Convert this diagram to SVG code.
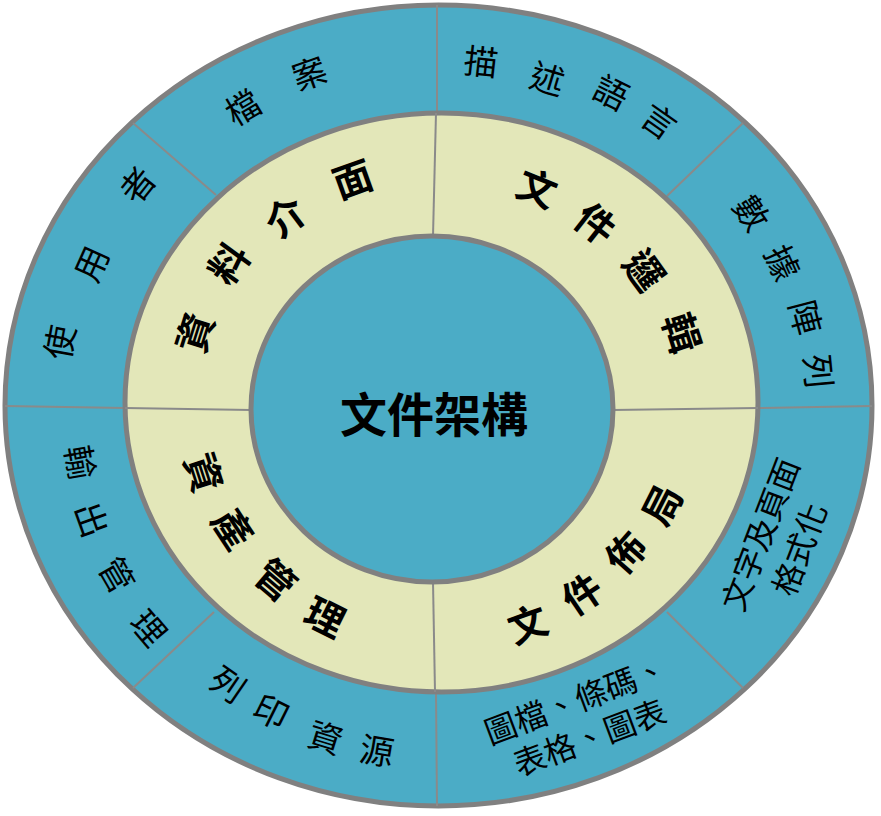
<svg xmlns="http://www.w3.org/2000/svg" width="881" height="816" viewBox="0 0 881 816">
<style>
.ring{stroke:#808080;stroke-width:5}
.blue{fill:#4BACC6}
.cream{fill:#E3E7B9}
.div{stroke:#8A8A8A;stroke-width:2;fill:none}
text{font-family:"Noto Sans CJK TC","Noto Sans CJK SC",sans-serif;fill:#000;text-anchor:middle;dominant-baseline:central}
.o{font-size:34px}
.t{font-size:32px}
.m{font-size:39px;font-weight:bold}
.c{font-size:47px;font-weight:bold}
</style>
<g id="rings">
<ellipse class="ring blue" cx="438.5" cy="405.5" rx="433.5" ry="400.5"/>
</g>
<g id="connectors">
<line class="div" x1="437" y1="5" x2="437" y2="113"/>
<line class="div" x1="743" y1="123" x2="667" y2="196"/>
<line class="div" x1="872" y1="406" x2="758" y2="408"/>
<line class="div" x1="743" y1="688" x2="667" y2="612"/>
<line class="div" x1="437" y1="806" x2="436" y2="692"/>
<line class="div" x1="133" y1="688" x2="214" y2="612"/>
<line class="div" x1="5" y1="406" x2="125" y2="408"/>
<line class="div" x1="133" y1="123" x2="216" y2="195"/>
</g>
<g id="middle-ring">
<ellipse class="ring cream" cx="441.5" cy="402.5" rx="316.5" ry="289.5"/>
<line class="div" x1="436" y1="113" x2="433" y2="236"/>
<line class="div" x1="758" y1="408" x2="613" y2="410"/>
<line class="div" x1="433" y1="582" x2="435" y2="692"/>
<line class="div" x1="125" y1="408" x2="251" y2="410"/>
</g>
<g id="center">
<ellipse class="ring blue" cx="432" cy="409" rx="181" ry="173"/>
<text class="c" x="434" y="411">文件架構</text>
</g>
<g id="node-user-files">
<text class="o" transform="translate(58,342) rotate(-79.7)">使</text>
<text class="o" transform="translate(90,263) rotate(-65.9)">用</text>
<text class="o" transform="translate(136,184) rotate(-51.3)">者</text>
</g>
<g id="node-files">
<text class="o" transform="translate(242,106) rotate(-30.9)">檔</text>
<text class="o" transform="translate(309,72) rotate(-19.6)">案</text>
</g>
<g id="node-pdl">
<text class="o" transform="translate(481,60) rotate(6.3)">描</text>
<text class="o" transform="translate(548,77) rotate(16.8)">述</text>
<text class="o" transform="translate(612,91) rotate(26.6)">語</text>
<text class="o" transform="translate(660,120) rotate(35.2)">言</text>
</g>
<g id="node-data-array">
<text class="o" transform="translate(753,212) rotate(56)">數</text>
<text class="o" transform="translate(784,262) rotate(65.5)">據</text>
<text class="o" transform="translate(807,317) rotate(75.2)">陣</text>
<text class="o" transform="translate(820,371) rotate(84.4)">列</text>
</g>
<g id="node-text-format" transform="translate(778,541) rotate(-69)">
<text class="t" x="0" y="-21">文字及頁面</text>
<text class="t" x="0" y="21">格式化</text>
</g>
<g id="node-graphics" transform="translate(582,717) rotate(-20.5)">
<text class="t" x="0" y="-20">圖檔、條碼、</text>
<text class="t" x="0" y="20">表格、圖表</text>
</g>
<g id="node-print-resources">
<text class="o" transform="translate(229,683) rotate(34.5)">列</text>
<text class="o" transform="translate(272,710) rotate(26.5)">印</text>
<text class="o" transform="translate(326,736) rotate(17.2)">資</text>
<text class="o" transform="translate(377,749) rotate(9.3)">源</text>
</g>
<g id="node-output-mgmt">
<text class="o" transform="translate(82,462) rotate(80)">輸</text>
<text class="o" transform="translate(93,519) rotate(70.1)">出</text>
<text class="o" transform="translate(118,574) rotate(59.9)">管</text>
<text class="o" transform="translate(150,627) rotate(49.8)">理</text>
</g>
<g id="node-data-interface">
<text class="m" transform="translate(193,332) rotate(-72.5)">資</text>
<text class="m" transform="translate(227,262) rotate(-54.1)">料</text>
<text class="m" transform="translate(284,215) rotate(-37.2)">介</text>
<text class="m" transform="translate(352,177) rotate(-19.7)">面</text>
</g>
<g id="node-doc-logic">
<text class="m" transform="translate(538,186) rotate(22.1)">文</text>
<text class="m" transform="translate(597,222) rotate(38.1)">件</text>
<text class="m" transform="translate(646,269) rotate(54.4)">邏</text>
<text class="m" transform="translate(684,332) rotate(72.2)">輯</text>
</g>
<g id="node-doc-layout">
<text class="m" transform="translate(527,622) rotate(-19.6)">文</text>
<text class="m" transform="translate(581,592) rotate(-34)">件</text>
<text class="m" transform="translate(624,551) rotate(-48.3)">佈</text>
<text class="m" transform="translate(660,504) rotate(-63.1)">局</text>
</g>
<g id="node-resource-mgmt">
<text class="m" transform="translate(206,472) rotate(72.1)">資</text>
<text class="m" transform="translate(235,527) rotate(56.6)">產</text>
<text class="m" transform="translate(277,578) rotate(40.4)">管</text>
<text class="m" transform="translate(326,615) rotate(26.3)">理</text>
</g>
</svg>
